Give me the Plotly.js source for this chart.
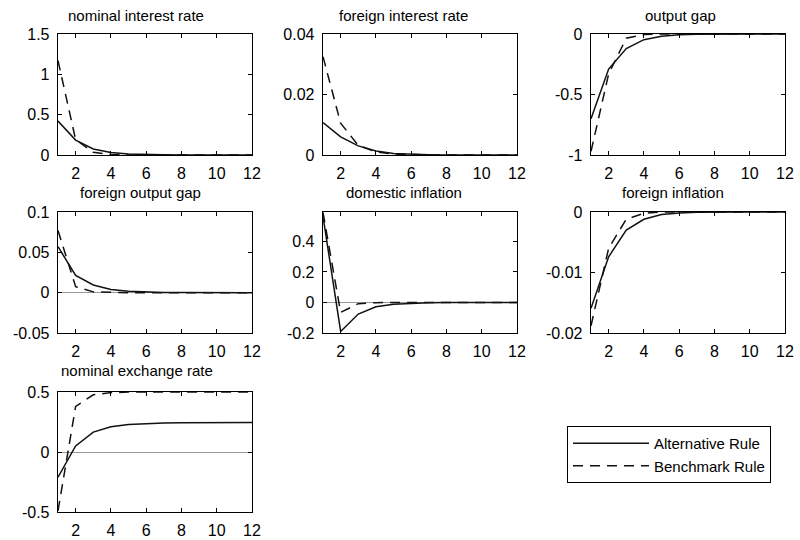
<!DOCTYPE html>
<html>
<head>
<meta charset="utf-8">
<script src="https://cdn.plot.ly/plotly-3.0.1.min.js"></script>
<style>html,body{margin:0;padding:0;background:#fff;}#chart{width:800px;height:540px;}</style>
</head>
<body>
<div id="chart"></div>
<script>
// periods
var periods = [1, 2, 3, 4, 5, 6, 7, 8, 9, 10, 11, 12];

// series names
var altName = "Alternative Rule";
var benchName = "Benchmark Rule";

// panel titles
var titles = ["nominal interest rate", "foreign interest rate", "output gap",
              "foreign output gap", "domestic inflation", "foreign inflation",
              "nominal exchange rate"];

// Alternative Rule (solid)
var altNominalInterest = [0.42, 0.185, 0.075, 0.03, 0.012, 0.005, 0.002, 0.001, 0, 0, 0, 0];
var altForeignInterest = [0.0107, 0.0060, 0.0030, 0.0013, 0.0005, 0.0002, 0.0001, 0, 0, 0, 0, 0];
var altOutputGap = [-0.70, -0.29, -0.12, -0.047, -0.018, -0.007, -0.003, -0.001, 0, 0, 0, 0];
var altForeignOutputGap = [0.057, 0.0215, 0.0095, 0.004, 0.0017, 0.0007, 0.0003, 0.0001, 0, 0, 0, 0];
var altDomesticInflation = [0.565, -0.19, -0.076, -0.028, -0.011, -0.004, -0.0015, -0.0005, 0, 0, 0, 0];
var altForeignInflation = [-0.0159, -0.0074, -0.003, -0.0012, -0.0004, -0.00015, -0.00005, 0, 0, 0, 0, 0];
var altExchangeRate = [-0.21, 0.05, 0.166, 0.21, 0.23, 0.238, 0.242, 0.244, 0.245, 0.245, 0.245, 0.245];

// Benchmark Rule (dashed)
var benchNominalInterest = [1.17, 0.19, 0.035, 0.006, 0.001, 0, 0, 0, 0, 0, 0, 0];
var benchForeignInterest = [0.0325, 0.0105, 0.0032, 0.001, 0.0003, 0.0001, 0, 0, 0, 0, 0, 0];
var benchOutputGap = [-0.97, -0.33, -0.035, -0.005, -0.001, 0, 0, 0, 0, 0, 0, 0];
var benchForeignOutputGap = [0.077, 0.0075, 0.001, 0.0001, 0, 0, 0, 0, 0, 0, 0, 0];
var benchDomesticInflation = [0.59, -0.065, -0.008, -0.001, 0, 0, 0, 0, 0, 0, 0, 0];
var benchForeignInflation = [-0.0188, -0.006, -0.0012, -0.0002, 0, 0, 0, 0, 0, 0, 0, 0];
var benchExchangeRate = [-0.49, 0.38, 0.477, 0.495, 0.499, 0.5, 0.5, 0.5, 0.5, 0.5, 0.5, 0.5];

// tick values / labels
var xTickVals = [2, 4, 6, 8, 10, 12];
var xTickText = ["2", "4", "6", "8", "10", "12"];
var yTickVals = [
  [0, 0.5, 1, 1.5],
  [0, 0.02, 0.04],
  [-1, -0.5, 0],
  [-0.05, 0, 0.05, 0.1],
  [-0.2, 0, 0.2, 0.4],
  [-0.02, -0.01, 0],
  [-0.5, 0, 0.5]
];
var yTickText = [
  ["0", "0.5", "1", "1.5"],
  ["0", "0.02", "0.04"],
  ["-1", "-0.5", "0"],
  ["-0.05", "0", "0.05", "0.1"],
  ["-0.2", "0", "0.2", "0.4"],
  ["-0.02", "-0.01", "0"],
  ["-0.5", "0", "0.5"]
];
var yRanges = [[0, 1.5], [0, 0.04], [-1, 0], [-0.05, 0.1], [-0.2, 0.593], [-0.02, 0], [-0.5, 0.5]];

var altSeries = [altNominalInterest, altForeignInterest, altOutputGap, altForeignOutputGap,
                 altDomesticInflation, altForeignInflation, altExchangeRate];
var benchSeries = [benchNominalInterest, benchForeignInterest, benchOutputGap, benchForeignOutputGap,
                   benchDomesticInflation, benchForeignInflation, benchExchangeRate];

// layout geometry (pixels)
var W = 800, H = 540;
var colX = [[58, 252], [323, 517], [591, 785]];
var rowY = [[34, 155], [212, 333], [392, 512]];
var titleX = [136, 403, 680, 140, 404, 673, 137];
var titleY = [15, 192, 370];
var showZero = [false, false, false, true, true, false, true];

var font = "Liberation Sans, Arial, Helvetica, sans-serif";
var traces = [];
var layout = {
  width: W, height: H,
  margin: {l: 0, r: 0, t: 0, b: 0},
  paper_bgcolor: "#fff", plot_bgcolor: "#fff",
  font: {family: font, size: 15, color: "#000"},
  showlegend: true,
  legend: {
    x: 567 / W, y: 1 - 426 / H, xanchor: "left", yanchor: "top",
    bordercolor: "#000", borderwidth: 1, bgcolor: "#fff",
    font: {family: font, size: 15, color: "#000"},
    itemwidth: 76, tracegroupgap: 0,
    entrywidth: 230, entrywidthmode: "pixels"
  },
  annotations: [],
  shapes: []
};

for (var i = 0; i < 7; i++) {
  var r = Math.floor(i / 3), c = i % 3;
  var n = i + 1;
  var xa = "x" + (n === 1 ? "" : n), ya = "y" + (n === 1 ? "" : n);
  traces.push({
    x: periods, y: altSeries[i], xaxis: xa, yaxis: ya, type: "scatter", mode: "lines",
    name: altName, legendgroup: "alt", showlegend: i === 0,
    line: {color: "#111", width: 1.5}, hoverinfo: "skip"
  });
  traces.push({
    x: periods, y: benchSeries[i], xaxis: xa, yaxis: ya, type: "scatter", mode: "lines",
    name: benchName, legendgroup: "bench", showlegend: i === 0,
    line: {color: "#111", width: 1.5, dash: "10px,7px"}, hoverinfo: "skip"
  });
  var axCommon = {
    showline: true, linecolor: "#000", linewidth: 1.3, mirror: "ticks",
    ticks: "inside", ticklen: 4, tickcolor: "#000", tickwidth: 1,
    showgrid: false, tickfont: {family: font, size: 16, color: "#000"},
    fixedrange: true
  };
  layout["xaxis" + (n === 1 ? "" : n)] = Object.assign({}, axCommon, {
    domain: [colX[c][0] / W, colX[c][1] / W],
    anchor: ya, range: [1, 12], tickmode: "array",
    tickvals: xTickVals, ticktext: xTickText, zeroline: false,
    ticklabelstandoff: 3
  });
  layout["yaxis" + (n === 1 ? "" : n)] = Object.assign({}, axCommon, {
    domain: [1 - rowY[r][1] / H, 1 - rowY[r][0] / H],
    anchor: xa, range: yRanges[i], tickmode: "array",
    tickvals: yTickVals[i], ticktext: yTickText[i],
    zeroline: showZero[i], zerolinecolor: "#999", zerolinewidth: 1,
    ticklabelstandoff: 4
  });
  layout.annotations.push({
    text: titles[i], xref: "paper", yref: "paper",
    x: titleX[i] / W, y: 1 - titleY[r] / H, xanchor: "center", yanchor: "middle",
    showarrow: false, font: {family: font, size: 15, color: "#000"}
  });
}

Plotly.newPlot("chart", traces, layout, {staticPlot: true, displayModeBar: false});
</script>
</body>
</html>
